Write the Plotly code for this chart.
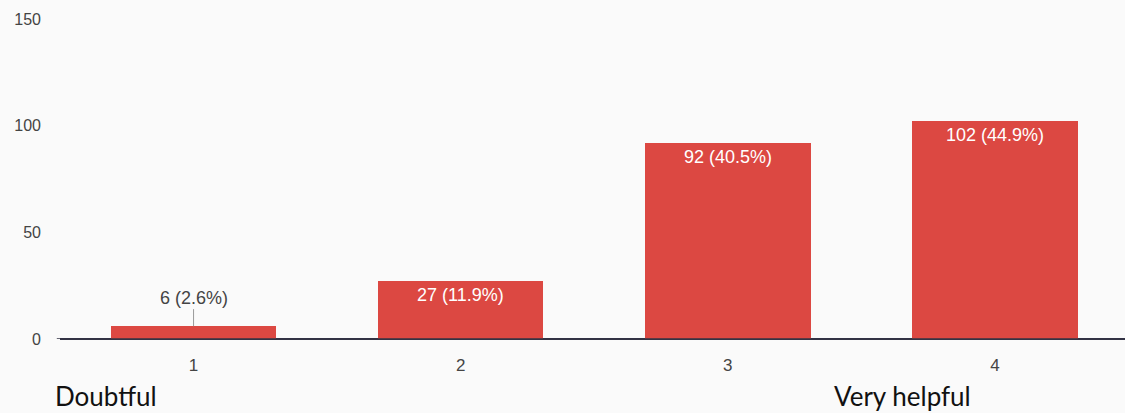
import plotly.graph_objects as go

categories = [1, 2, 3, 4]
counts = [6, 27, 92, 102]
percents = ["2.6", "11.9", "40.5", "44.9"]
y_ticks = [0, 50, 100, 150]
end_labels = ["Doubtful", "Very helpful"]

bar_color = "#dc4842"
labels = [f"{c} ({p}%)" for c, p in zip(counts, percents)]

fig = go.Figure()
fig.add_trace(go.Bar(
    x=categories, y=counts, width=0.62,
    marker=dict(color=bar_color, line=dict(width=0)),
    hoverinfo="skip",
))

# labels: small bar gets label above with leader line, others inside top
for x, c, lab in zip(categories, counts, labels):
    if c < 15:
        fig.add_shape(type="line", xref="x", yref="y", x0=x, x1=x, y0=c, y1=c + 8,
                      line=dict(color="#9a9a9a", width=1))
        fig.add_annotation(x=x, y=c + 13, text=lab, showarrow=False, yanchor="middle",
                           font=dict(family="Liberation Sans, Arial", size=18, color="#444444"))
    else:
        fig.add_annotation(x=x, y=c, text=lab, showarrow=False, yanchor="top", yshift=-2,
                           font=dict(family="Liberation Sans, Arial", size=18, color="#ffffff"))

fig.add_annotation(xref="paper", yref="paper", x=-0.007, y=0, yshift=-57, xanchor="left", yanchor="middle",
                   text=end_labels[0], showarrow=False,
                   font=dict(family="Lato, Open Sans", size=26, color="#111111"))
fig.add_annotation(xref="x", yref="paper", x=3.655, y=0, yshift=-57, xanchor="center", yanchor="middle",
                   text=end_labels[1], showarrow=False,
                   font=dict(family="Lato, Open Sans", size=26, color="#111111"))

fig.update_layout(
    width=1125, height=413,
    margin=dict(l=60, r=0, t=19, b=74),
    paper_bgcolor="#fafafa", plot_bgcolor="#fafafa",
    showlegend=False,
    bargap=0,
    xaxis=dict(range=[0.5, 4.487], tickvals=categories, ticktext=[str(c) for c in categories],
               showgrid=False, zeroline=False, showline=False, ticks="",
               tickfont=dict(family="Liberation Sans, Arial", size=17, color="#444444"),
               ticklabelstandoff=14),
    yaxis=dict(range=[0, 150], tickvals=y_ticks, showgrid=False, zeroline=True,
               zerolinecolor="#333344", zerolinewidth=1.5, showline=False, ticks="",
               tickfont=dict(family="Liberation Sans, Arial", size=16, color="#444444"),
               ticklabelstandoff=18),
)
fig.add_shape(type="line", xref="paper", yref="y", x0=-0.003, x1=1, y0=0, y1=0,
              line=dict(color="#333344", width=1.5))

fig.write_html("out.html", config={"displayModeBar": False},
               post_script="document.body.style.margin='0';document.body.style.overflow='hidden';")
